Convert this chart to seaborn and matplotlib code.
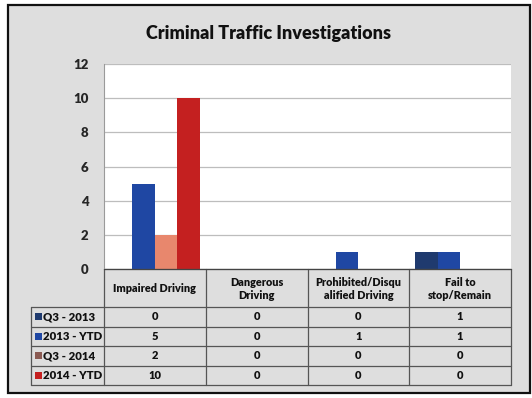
import matplotlib
matplotlib.use("Agg")
import matplotlib.pyplot as plt
import seaborn as sns
import pandas as pd
from matplotlib.patches import Rectangle
from matplotlib.lines import Line2D

categories = ["Impaired Driving", "Dangerous Driving", "Prohibited/Disqualified Driving", "Fail to stop/Remain"]
header_labels = ["Impaired Driving", "Dangerous\nDriving", "Prohibited/Disqu\nalified Driving", "Fail to\nstop/Remain"]
series = ["Q3 - 2013", "2013 - YTD", "Q3 - 2014", "2014 - YTD"]
q3_2013 = [0, 0, 0, 1]
ytd_2013 = [5, 0, 1, 1]
q3_2014 = [2, 0, 0, 0]
ytd_2014 = [10, 0, 0, 0]
colors = ["#1f3a6e", "#1f47a3", "#e8876d", "#c42020"]
legend_marker_colors = ["#1f3a6e", "#1f47a3", "#8a5a52", "#c42020"]
yticks = [0, 2, 4, 6, 8, 10, 12]

values = [q3_2013, ytd_2013, q3_2014, ytd_2014]
rows = []
for s, vals in zip(series, values):
    for c, v in zip(categories, vals):
        rows.append({"category": c, "series": s, "value": v})
df = pd.DataFrame(rows)

sns.set_style("white")
plt.rcParams["font.family"] = ["Lato", "DejaVu Sans"]

W, H = 532, 398
fig = plt.figure(figsize=(W / 100, H / 100), dpi=100, facecolor="white")

# outer gray panel with border
panel = Rectangle((8 / W, 1 - 393 / H), (530 - 8) / W, (393 - 5) / H,
                  transform=fig.transFigure, facecolor="#dedede",
                  edgecolor="#111111", linewidth=1.6, zorder=-10)
fig.add_artist(panel)

ax_l, ax_r, ax_t, ax_b = 104, 511, 64, 269
ax = fig.add_axes([ax_l / W, 1 - ax_b / H, (ax_r - ax_l) / W, (ax_b - ax_t) / H])
ax.set_facecolor("white")

sns.barplot(data=df, x="category", y="value", hue="series", order=categories,
            hue_order=series, palette=colors, width=0.88, linewidth=0,
            saturation=1, legend=False, ax=ax)

ax.set_xlim(-0.5, 3.5)
ax.set_ylim(0, 12)
ax.set_yticks(yticks)
ax.set_yticklabels([str(t) for t in yticks], fontsize=9.5, fontweight="heavy")
ax.tick_params(axis="y", length=0, pad=11)
ax.set_xticks([])
ax.set_xlabel("")
ax.set_ylabel("")
ax.yaxis.grid(True, color="#bdbdbd", linewidth=0.9)
ax.set_axisbelow(True)
for sp in ["top", "right"]:
    ax.spines[sp].set_visible(False)
ax.spines["left"].set_color("#9a9a9a")
ax.spines["bottom"].set_color("#444444")

fig.text(268 / W, 1 - 33 / H, "Criminal Traffic Investigations", ha="center", va="center",
         fontsize=13, fontweight="heavy", color="#111111")

# data table below axes
axh = ax_b - ax_t
axw = ax_r - ax_l
def ay(py):
    return (ax_b - py) / axh
def axx(px):
    return (px - ax_l) / axw

header_bottom = 307
row_h = 19.5
leg_left = 31
table_bottom = header_bottom + 4 * row_h
lc = "#555555"
lw = 0.9

def line(x0, x1, y0, y1):
    ax.add_line(Line2D([x0, x1], [y0, y1], transform=ax.transAxes, color=lc,
                       linewidth=lw, clip_on=False))

# horizontal lines
line(0, 1, ay(ax_b), ay(ax_b))
for k in range(5):
    y = header_bottom + k * row_h
    line(axx(leg_left), 1, ay(y), ay(y))
# vertical lines
line(axx(leg_left), axx(leg_left), ay(header_bottom), ay(table_bottom))
for i in range(5):
    line(i / 4, i / 4, ay(ax_b), ay(table_bottom))

# header texts
for i, lab in enumerate(header_labels):
    ax.text((i + 0.5) / 4, ay((ax_b + header_bottom) / 2 + 1), lab, transform=ax.transAxes,
            ha="center", va="center", fontsize=7.8, fontweight="heavy", color="#111111",
            linespacing=1.25)

# rows
for r, (s, vals, mc) in enumerate(zip(series, values, legend_marker_colors)):
    yc = header_bottom + (r + 0.5) * row_h
    ax.add_patch(Rectangle((axx(leg_left + 4), ay(yc + 3.5)), 7 / axw, 7 / axh,
                           transform=ax.transAxes, facecolor=mc, edgecolor="none",
                           clip_on=False))
    ax.text(axx(leg_left + 12), ay(yc), s, transform=ax.transAxes, ha="left", va="center",
            fontsize=8.2, fontweight="heavy", color="#111111")
    for i, v in enumerate(vals):
        ax.text((i + 0.5) / 4, ay(yc), str(v), transform=ax.transAxes, ha="center",
                va="center", fontsize=8, fontweight="heavy", color="#111111")

fig.savefig("out.png", dpi=100, facecolor="white")
